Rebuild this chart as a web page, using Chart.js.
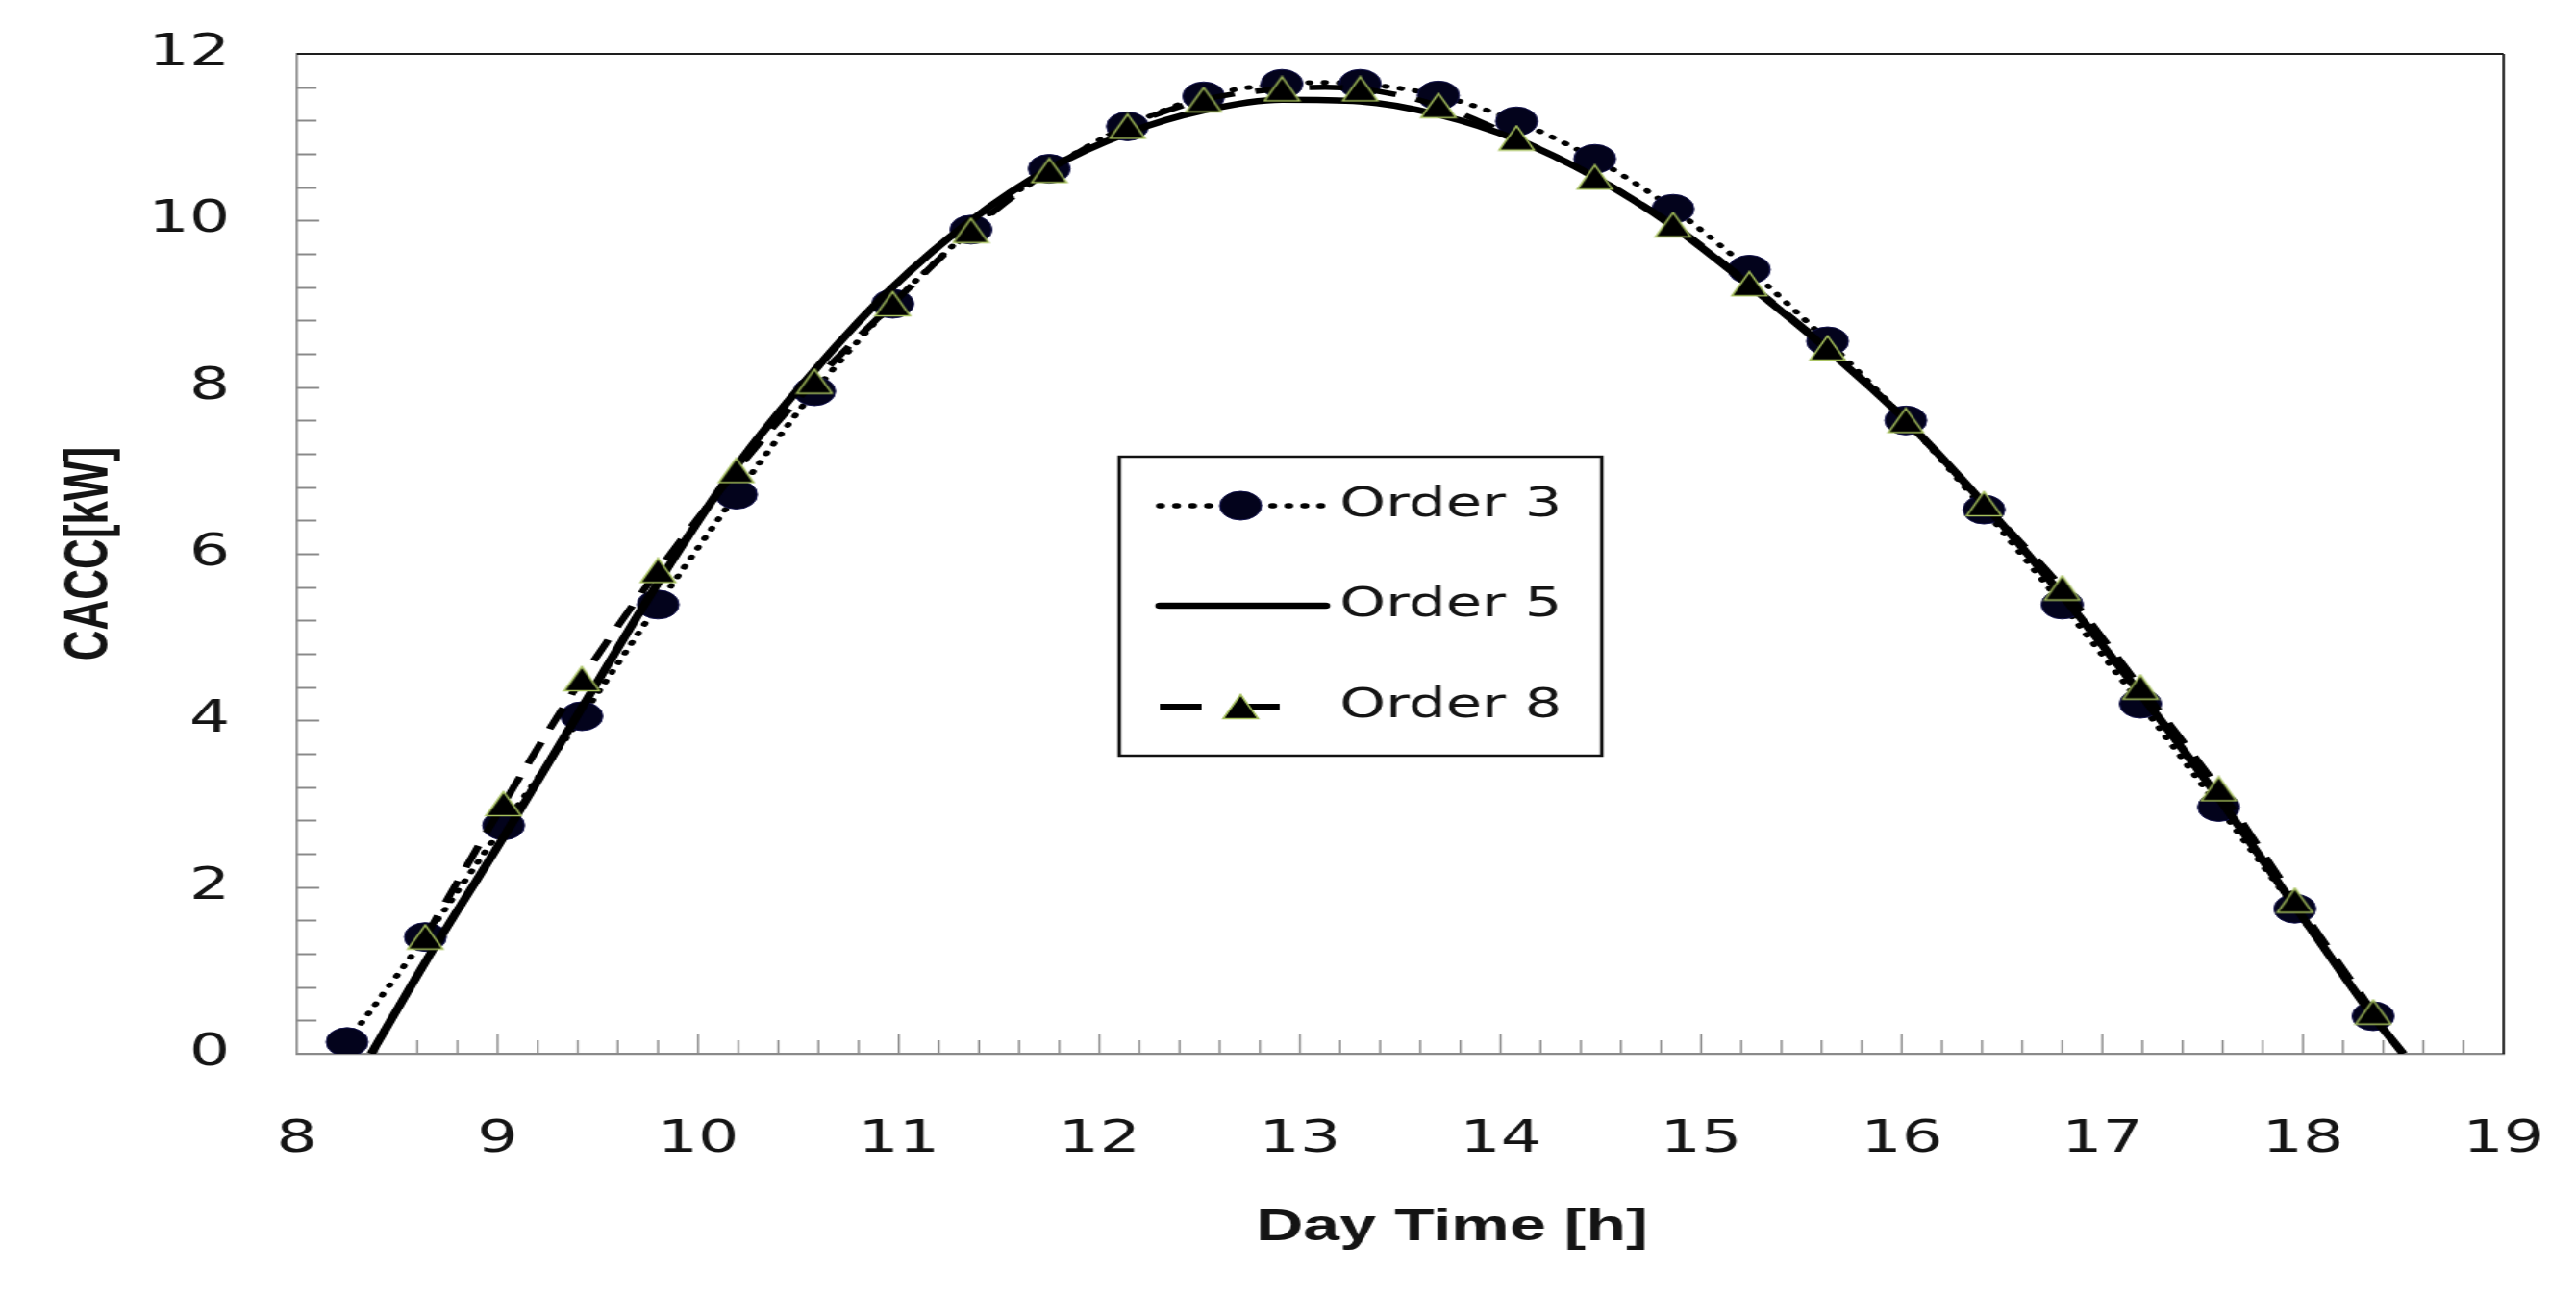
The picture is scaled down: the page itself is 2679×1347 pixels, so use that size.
<!DOCTYPE html>
<html>
<head>
<meta charset="utf-8">
<script src="https://cdn.jsdelivr.net/npm/chart.js@4.4.1/dist/chart.umd.min.js"></script>
<style>
  html, body { margin: 0; padding: 0; background: #fff; overflow: hidden; }
  /* the reference picture is stretched sideways, so the chart is drawn narrow and widened */
  #wrap { position: absolute; left: 0; top: 0; width: 1848px; height: 1347px;
          transform: scaleX(1.4497); transform-origin: 0 0; }
</style>
</head>
<body>
<div id="wrap"><canvas id="chart"></canvas></div>
<script>
// Day time of each sample [h]
const hours = [8.25, 8.64, 9.03, 9.42, 9.80, 10.19, 10.58, 10.97, 11.36, 11.75, 12.14, 12.52, 12.91,
               13.30, 13.69, 14.08, 14.47, 14.86, 15.24, 15.63, 16.02, 16.41, 16.80, 17.19, 17.58, 17.96, 18.35];
// CACC [kW]
const order3 = [0.14, 1.4, 2.74, 4.05, 5.39, 6.71, 7.95, 9.0, 9.89, 10.62, 11.13, 11.49, 11.64,
                11.64, 11.5, 11.19, 10.74, 10.14, 9.41, 8.55, 7.6, 6.53, 5.39, 4.2, 2.96, 1.74, 0.45];
const order8 = [null, 1.4, 3.0, 4.5, 5.8, 7.0, 8.07, 9.0, 9.88, 10.6, 11.13, 11.45, 11.58,
                11.58, 11.38, 10.99, 10.52, 9.95, 9.24, 8.47, 7.6, 6.6, 5.59, 4.4, 3.18, 1.84, 0.5];
// the order 5 curve also has its two zero crossings
const hours5 = [8.37, 8.64, 9.03, 9.42, 9.80, 10.19, 10.58, 10.97, 11.36, 11.75, 12.14, 12.52, 12.91,
                13.30, 13.69, 14.08, 14.47, 14.86, 15.24, 15.63, 16.02, 16.41, 16.80, 17.19, 17.58, 17.96, 18.35, 18.50];
const order5 = [0, 1.1, 2.6, 4.15, 5.65, 7.05, 8.2, 9.2, 10.0, 10.62, 11.05, 11.32, 11.45,
                11.43, 11.27, 10.97, 10.52, 9.93, 9.22, 8.45, 7.6, 6.6, 5.5, 4.32, 3.07, 1.77, 0.45, 0];
const seriesNames = ['Order 3', 'Order 5', 'Order 8'];

const tickFont = { family: '"DejaVu Sans"', size: 46 };
const textColor = '#141414';

// Excel-like triangle marker (square box, black with a thin yellow-green edge)
function makeTriangle(w, h) {
  const c = document.createElement('canvas');
  c.width = w; c.height = h;
  const g = c.getContext('2d');
  g.beginPath();
  g.moveTo(w / 2, 1.5);
  g.lineTo(w - 1.5, h - 1.5);
  g.lineTo(1.5, h - 1.5);
  g.closePath();
  g.fillStyle = '#000';
  g.fill();
  g.lineWidth = 1.5;
  g.strokeStyle = '#a6c05c';
  g.stroke();
  return c;
}
const triangle = makeTriangle(28, 28);

function toPoints(xs, ys) {
  return xs.map((x, i) => ({ x: x, y: ys[i] }));
}

// inner tick marks, top and right frame lines
const framePlugin = {
  id: 'frame',
  beforeDatasetsDraw(chart) {
    const { ctx, chartArea: a, scales: { x, y } } = chart;
    ctx.save();
    ctx.strokeStyle = '#8a8a8a';
    ctx.lineWidth = 2;
    for (let i = 1; i < 30; i++) {
      const py = Math.round(y.getPixelForValue(i * 0.4)) + 0.5;
      const len = i % 5 === 0 ? 16 : 14;
      ctx.beginPath();
      ctx.moveTo(a.left, py);
      ctx.lineTo(a.left + len, py);
      ctx.stroke();
    }
    ctx.lineWidth = 1.4;
    for (let i = 1; i < 55; i++) {
      const px = x.getPixelForValue(8 + i * 0.2);
      const len = i % 5 === 0 ? 20 : 14;
      ctx.beginPath();
      ctx.moveTo(px, a.bottom);
      ctx.lineTo(px, a.bottom - len);
      ctx.stroke();
    }
    ctx.strokeStyle = '#1e1e1e';
    ctx.lineWidth = 2;
    ctx.beginPath();
    ctx.moveTo(a.left, a.top);
    ctx.lineTo(a.right, a.top);
    ctx.stroke();
    ctx.lineWidth = 1.8;
    ctx.beginPath();
    ctx.moveTo(a.right, a.top);
    ctx.lineTo(a.right, a.bottom);
    ctx.stroke();
    ctx.restore();
  },
  afterDraw(chart) {
    const { ctx, chartArea: a } = chart;
    ctx.save();
    // x axis title
    ctx.fillStyle = textColor;
    ctx.font = 'bold 47px "Liberation Sans"';
    ctx.textAlign = 'center';
    ctx.textBaseline = 'middle';
    ctx.fillText('Day Time [h]', (a.left + a.right) / 2 + 37, 1277);

    // legend box
    const bx = 803, by = 475, bw = 346, bh = 311;
    ctx.fillStyle = '#fff';
    ctx.fillRect(bx, by, bw, bh);
    ctx.strokeStyle = '#111';
    ctx.lineWidth = 2.5;
    ctx.strokeRect(bx, by, bw, bh);

    const rows = [526, 630, 735];
    const x0 = 832, x1 = 948, mx = 890;
    // Order 3
    ctx.strokeStyle = '#000';
    ctx.lineCap = 'round';
    ctx.lineWidth = 5.5;
    ctx.setLineDash([1, 10.5]);
    ctx.beginPath(); ctx.moveTo(x0, rows[0]); ctx.lineTo(x1, rows[0]); ctx.stroke();
    ctx.setLineDash([]);
    ctx.beginPath(); ctx.arc(mx, rows[0], 15, 0, Math.PI * 2);
    ctx.fillStyle = '#03031c'; ctx.fill();
    ctx.lineWidth = 1; ctx.strokeStyle = '#12124a'; ctx.stroke();
    // Order 5
    ctx.strokeStyle = '#000';
    ctx.lineWidth = 6.5;
    ctx.beginPath(); ctx.moveTo(x0, rows[1]); ctx.lineTo(x1 + 3, rows[1]); ctx.stroke();
    // Order 8
    ctx.lineCap = 'butt';
    ctx.setLineDash([30, 26]);
    ctx.lineWidth = 6;
    ctx.beginPath(); ctx.moveTo(x0, rows[2]); ctx.lineTo(x1 - 27, rows[2]); ctx.stroke();
    ctx.setLineDash([]);
    ctx.drawImage(triangle, mx - triangle.width / 2, rows[2] - triangle.height / 2);

    ctx.fillStyle = textColor;
    ctx.font = '42px "DejaVu Sans"';
    ctx.textAlign = 'left';
    seriesNames.forEach((name, i) => ctx.fillText(name, 961, rows[i]));
    ctx.restore();
  }
};

const ctx = document.getElementById('chart').getContext('2d');
new Chart(ctx, {
  type: 'line',
  data: {
    datasets: [
      {
        label: seriesNames[2],
        data: toPoints(hours, order8),
        order: 0,
        borderColor: '#000',
        borderWidth: 5.5,
        borderDash: [24, 15],
        tension: 0.3,
        pointStyle: triangle,
        pointRadius: 14,
        fill: false
      },
      {
        label: seriesNames[1],
        data: toPoints(hours5, order5),
        order: 1,
        borderColor: '#000',
        borderWidth: 6.5,
        cubicInterpolationMode: 'monotone',
        pointRadius: 0,
        clip: 0,
        fill: false
      },
      {
        label: seriesNames[0],
        data: toPoints(hours, order3),
        order: 2,
        borderColor: '#000',
        borderWidth: 5,
        borderDash: [1, 10],
        borderCapStyle: 'round',
        tension: 0.3,
        pointStyle: 'circle',
        pointRadius: 15,
        pointBackgroundColor: '#03031c',
        pointBorderColor: '#12124a',
        pointBorderWidth: 1,
        fill: false
      }
    ]
  },
  options: {
    responsive: true,
    maintainAspectRatio: false,
    animation: false,
    events: [],
    layout: { padding: { top: 56, right: 52, left: 0, bottom: 0 } },
    plugins: { legend: { display: false }, tooltip: { enabled: false } },
    scales: {
      x: {
        type: 'linear',
        min: 8,
        max: 19,
        grid: { display: false, drawTicks: false },
        border: { display: true, color: '#8a8a8a', width: 2.2 },
        ticks: { stepSize: 1, padding: 62, font: tickFont, color: textColor },
        afterFit(scale) {
          scale.height = 251;
          scale.paddingLeft = 0;
          scale.paddingRight = 0;
        }
      },
      y: {
        min: 0,
        max: 12,
        grid: { display: false, drawTicks: false },
        border: { display: true, color: '#8a8a8a', width: 1.6 },
        ticks: { stepSize: 2, padding: 48, font: tickFont, color: textColor },
        title: {
          display: true,
          text: 'CACC[kW]',
          color: textColor,
          font: { family: '"Liberation Sans"', size: 44, weight: 'bold' },
          padding: { top: 38, bottom: 0 }
        },
        afterFit(scale) {
          scale.width = 213;
          scale.paddingTop = 0;
          scale.paddingBottom = 0;
        }
      }
    }
  },
  plugins: [framePlugin]
});
</script>
</body>
</html>
